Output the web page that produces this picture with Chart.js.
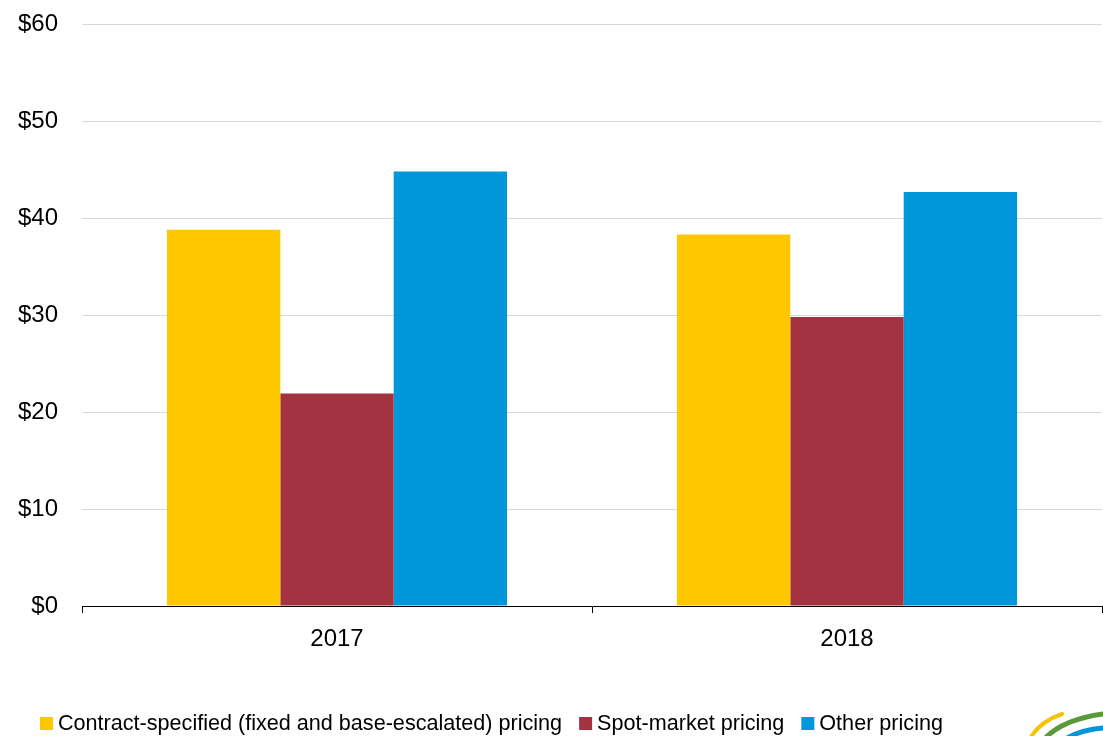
<!DOCTYPE html>
<html>
<head>
<meta charset="utf-8">
<script src="https://cdn.jsdelivr.net/npm/chart.js@4.4.1/dist/chart.umd.min.js"></script>
<style>
  html, body { margin: 0; padding: 0; background: #fff; }
  #wrap { width: 1103px; height: 736px; position: relative; }
</style>
</head>
<body>
<div id="wrap"><canvas id="grafico"></canvas></div>
<script>
// dados do gráfico
const anos = ['2017', '2018'];
const contrato = [38.8, 38.3];
const spot = [21.9, 29.8];
const outros = [44.8, 42.7];
const rotulos = ['Contract-specified (fixed and base-escalated) pricing', 'Spot-market pricing', 'Other pricing'];
const cores = ['#ffc700', '#a33340', '#0097da'];

const fonte = "'Liberation Sans', Arial, sans-serif";

// legenda desenhada à mão para ficar no mesmo lugar da referência
const legendaPlugin = {
  id: 'legendaManual',
  afterDraw(chart) {
    const ctx = chart.ctx;
    ctx.save();
    ctx.font = '21.6px ' + fonte;
    ctx.textBaseline = 'middle';
    let x = 40;
    const y = 724;
    chart.data.datasets.forEach(ds => {
      ctx.fillStyle = ds.backgroundColor;
      ctx.fillRect(x, y - 7, 13, 13);
      ctx.fillStyle = '#000';
      ctx.fillText(ds.label, x + 18, y);
      x += 18 + ctx.measureText(ds.label).width + 17;
    });
    ctx.restore();
  }
};

// pedaço do logo no canto
const logoPlugin = {
  id: 'logo',
  afterDraw(chart) {
    const ctx = chart.ctx;
    ctx.save();
    ctx.lineCap = 'round';
    ctx.lineWidth = 4;
    ctx.strokeStyle = '#f5c400';
    ctx.beginPath();
    ctx.moveTo(1028, 742);
    ctx.quadraticCurveTo(1038, 722, 1062, 714);
    ctx.stroke();
    ctx.lineWidth = 5;
    ctx.strokeStyle = '#5a9a3a';
    ctx.beginPath();
    ctx.moveTo(1040, 744);
    ctx.quadraticCurveTo(1058, 720, 1103, 714);
    ctx.stroke();
    ctx.strokeStyle = '#0097da';
    ctx.beginPath();
    ctx.moveTo(1058, 744);
    ctx.quadraticCurveTo(1076, 730, 1103, 728);
    ctx.stroke();
    ctx.restore();
  }
};

const ctxBarra = document.getElementById('grafico').getContext('2d');
const chartBarra = new Chart(ctxBarra, {
  type: 'bar',
  data: {
    labels: anos,
    datasets: [
      { label: rotulos[0], data: contrato, backgroundColor: cores[0] },
      { label: rotulos[1], data: spot, backgroundColor: cores[1] },
      { label: rotulos[2], data: outros, backgroundColor: cores[2] }
    ]
  },
  options: {
    responsive: true,
    maintainAspectRatio: false,
    animation: false,
    categoryPercentage: 0.667,
    barPercentage: 1,
    layout: { padding: { top: 0, right: 1, left: 0, bottom: 0 } },
    plugins: {
      legend: { display: false },
      tooltip: { enabled: false }
    },
    scales: {
      x: {
        grid: { drawOnChartArea: false, drawTicks: true, tickLength: 7, offset: true, color: '#000' },
        border: { display: true, color: '#000', width: 1 },
        ticks: { color: '#000', font: { family: fonte, size: 24 }, padding: 12 },
        afterFit: (scale) => { scale.height = 130; }
      },
      y: {
        min: 0,
        max: 60,
        ticks: {
          stepSize: 10,
          color: '#000',
          padding: 24,
          // lineHeight pequeno para o padding de topo não crescer
          font: { family: fonte, size: 24, lineHeight: 0.01 },
          callback: (v) => '$' + v
        },
        grid: { color: '#d9d9d9', drawTicks: false },
        border: { display: false },
        afterFit: (scale) => { scale.width = 82; }
      }
    }
  },
  plugins: [legendaPlugin, logoPlugin]
});
</script>
</body>
</html>
